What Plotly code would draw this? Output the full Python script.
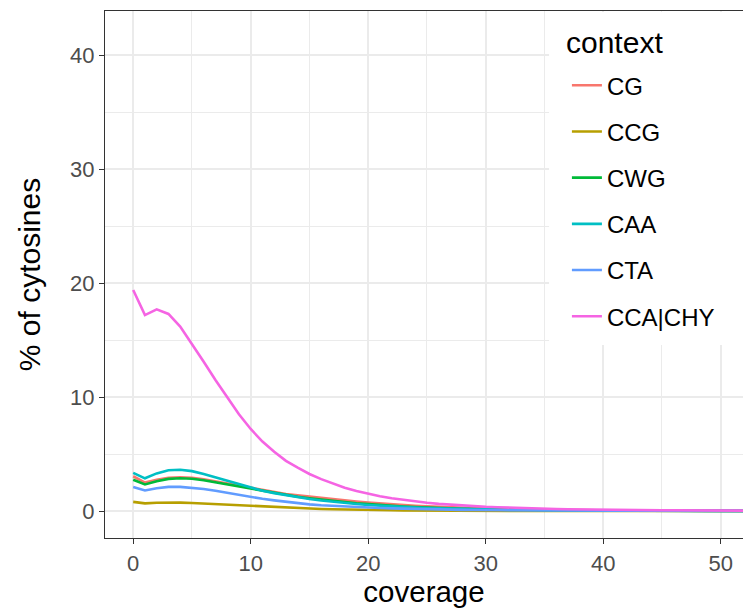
import plotly.graph_objects as go

# coverage values (x) shared by all contexts
coverage = list(range(53))

# % of cytosines per context at each coverage
cg = [3.05, 2.5, 2.75, 2.92, 2.97, 2.92, 2.78, 2.6, 2.4, 2.2,
      2.0, 1.82, 1.65, 1.5, 1.38, 1.26, 1.14, 1.03, 0.93, 0.83,
      0.74, 0.66, 0.58, 0.52, 0.46, 0.41, 0.36, 0.32, 0.28, 0.25,
      0.22, 0.19, 0.17, 0.15, 0.13, 0.11, 0.1, 0.09, 0.08, 0.07,
      0.06, 0.05, 0.05, 0.04, 0.04, 0.03, 0.03, 0.03, 0.02, 0.02,
      0.02, 0.02, 0.01]
ccg = [0.8, 0.67, 0.72, 0.75, 0.74, 0.7, 0.65, 0.6, 0.54, 0.48,
       0.43, 0.38, 0.33, 0.29, 0.25, 0.21, 0.18, 0.15, 0.12, 0.1,
       0.08, 0.07, 0.06, 0.05, 0.04, 0.04, 0.03, 0.03, 0.02, 0.02,
       0.02, 0.02, 0.01, 0.01, 0.01, 0.01, 0.01, 0.01, 0.01, 0.01,
       0.01, 0.01, 0.0, 0.0, 0.0, 0.0, 0.0, 0.0, 0.0, 0.0,
       0.0, 0.0, 0.0]
cwg = [2.75, 2.33, 2.62, 2.82, 2.87, 2.83, 2.7, 2.52, 2.32, 2.12,
       1.93, 1.74, 1.56, 1.4, 1.25, 1.12, 1.0, 0.88, 0.78, 0.68,
       0.6, 0.52, 0.46, 0.4, 0.35, 0.3, 0.26, 0.23, 0.2, 0.17,
       0.15, 0.13, 0.11, 0.1, 0.09, 0.08, 0.07, 0.06, 0.05, 0.05,
       0.04, 0.04, 0.03, 0.03, 0.03, 0.02, 0.02, 0.02, 0.02, 0.01,
       0.01, 0.01, 0.01]
caa = [3.35, 2.87, 3.3, 3.58, 3.62, 3.5, 3.25, 2.95, 2.65, 2.32,
       2.02, 1.78, 1.57, 1.38, 1.2, 1.05, 0.92, 0.8, 0.7, 0.61,
       0.53, 0.46, 0.4, 0.35, 0.3, 0.26, 0.23, 0.2, 0.17, 0.15,
       0.13, 0.11, 0.1, 0.09, 0.08, 0.07, 0.06, 0.05, 0.05, 0.04,
       0.04, 0.03, 0.03, 0.03, 0.02, 0.02, 0.02, 0.02, 0.02, 0.01,
       0.01, 0.01, 0.01]
cta = [2.1, 1.8, 2.0, 2.12, 2.12, 2.05, 1.93, 1.78, 1.6, 1.42,
       1.22, 1.07, 0.93, 0.8, 0.68, 0.58, 0.5, 0.44, 0.38, 0.34,
       0.3, 0.26, 0.23, 0.2, 0.17, 0.15, 0.13, 0.11, 0.1, 0.09,
       0.08, 0.07, 0.06, 0.05, 0.05, 0.04, 0.04, 0.03, 0.03, 0.03,
       0.02, 0.02, 0.02, 0.02, 0.02, 0.01, 0.01, 0.01, 0.01, 0.01,
       0.01, 0.01, 0.01]
cca_chy = [19.4, 17.2, 17.7, 17.3, 16.2, 14.7, 13.1, 11.5, 10.0, 8.5,
           7.2, 6.1, 5.2, 4.4, 3.8, 3.25, 2.8, 2.4, 2.05, 1.75,
           1.5, 1.3, 1.12, 0.97, 0.84, 0.73, 0.63, 0.55, 0.48, 0.42,
           0.37, 0.33, 0.29, 0.26, 0.23, 0.2, 0.18, 0.16, 0.14, 0.12,
           0.11, 0.1, 0.09, 0.08, 0.07, 0.06, 0.06, 0.05, 0.05, 0.04,
           0.04, 0.03, 0.03]

contexts = ["CG", "CCG", "CWG", "CAA", "CTA", "CCA|CHY"]
series = [cg, ccg, cwg, caa, cta, cca_chy]
colors = ["#F8766D", "#B79F00", "#00BA38", "#00BFC4", "#619CFF", "#F564E3"]

x_ticks = [0, 10, 20, 30, 40, 50]
y_ticks = [0, 10, 20, 30, 40]

FONT = "Liberation Sans, Arial, sans-serif"

fig = go.Figure()
for name, vals, col in zip(contexts, series, colors):
    fig.add_trace(go.Scatter(
        x=coverage, y=vals, mode="lines", name=name, legendgroup=name,
        line=dict(color=col, width=2.6),
    ))

axis_common = dict(
    showgrid=True, gridcolor="#EBEBEB", gridwidth=2.2,
    zeroline=False,
    showline=True, linecolor="#333333", linewidth=1.4,
    ticks="outside", ticklen=5, tickwidth=1.4, tickcolor="#333333",
    tickfont=dict(family=FONT, size=22, color="#4D4D4D"),
    minor=dict(showgrid=True, gridcolor="#EBEBEB", gridwidth=1.1, ticks=""),
)

fig.update_layout(
    width=743, height=608,
    margin=dict(l=105, r=0, t=11, b=70),
    paper_bgcolor="white", plot_bgcolor="white",
    font=dict(family=FONT, color="black"),
    xaxis=dict(
        axis_common, range=[-2.4, 51.9], tickvals=x_ticks, mirror=True,
        title=dict(text="coverage", font=dict(family=FONT, size=29.5), standoff=9),
    ),
    yaxis=dict(
        axis_common, range=[-2.37, 43.9], tickvals=y_ticks,
        title=dict(text="% of cytosines", font=dict(family=FONT, size=30), standoff=20),
    ),
    legend=dict(
        x=0.724, y=0.901, xanchor="left", yanchor="top",
        bgcolor="rgba(0,0,0,0)", borderwidth=0,
        font=dict(family=FONT, size=24, color="black"),
        tracegroupgap=12,
    ),
    showlegend=True,
    # white legend key background
    shapes=[dict(
        type="rect", xref="paper", yref="paper",
        x0=0.696, x1=1.0, y0=0.366, y1=0.998,
        fillcolor="white", line=dict(width=0), layer="above",
    )],
    annotations=[dict(
        text="context", xref="paper", yref="paper",
        x=0.719, y=0.941, xanchor="left", yanchor="middle",
        showarrow=False, font=dict(family=FONT, size=30, color="black"),
    )],
)
fig.update_xaxes(minor=dict(dtick=5, tick0=0))
fig.update_yaxes(minor=dict(dtick=5, tick0=0))

fig.write_html("out.html")
